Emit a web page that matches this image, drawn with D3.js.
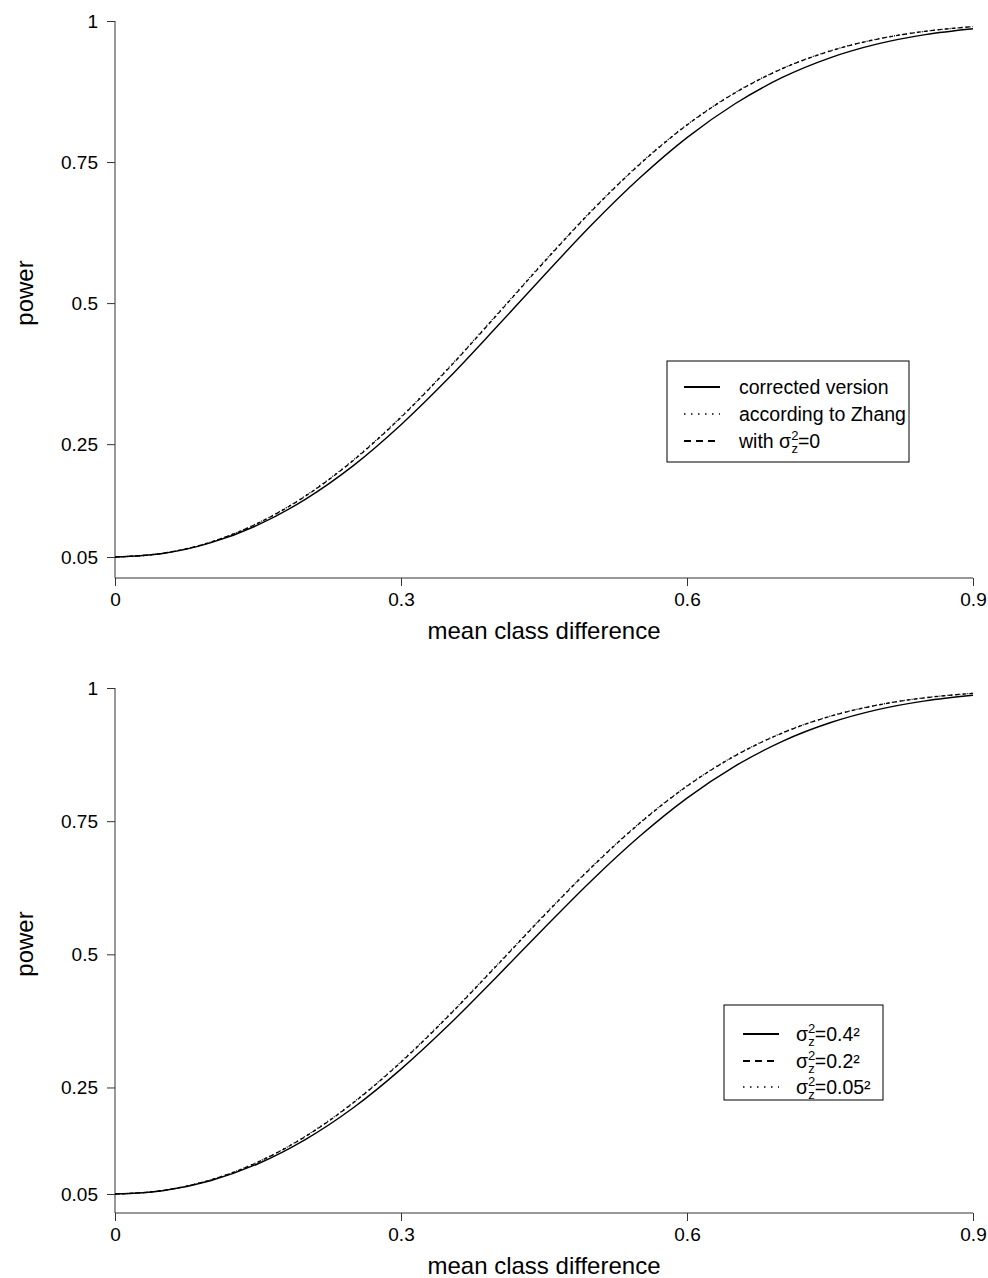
<!DOCTYPE html>
<html>
<head>
<meta charset="utf-8">
<script src="https://cdn.jsdelivr.net/npm/d3@7"></script>
<style>
html,body{margin:0;padding:0;background:#fff;}
svg text{font-family:"Liberation Sans",Arial,sans-serif;fill:#000;}
</style>
</head>
<body>
<svg id="chart" width="988" height="1278"></svg>
<script>
// ---- data ----
const meanDiff = [0,0.05,0.1,0.15,0.2,0.25,0.3,0.35,0.4,0.45,0.5,0.55,0.6,0.65,0.7,0.75,0.8,0.85,0.9];
const xTicks = [0,0.3,0.6,0.9];
const xTickLabels = ["0","0.3","0.6","0.9"];
const yTicks = [0.05,0.25,0.5,0.75,1];
const yTickLabels = ["0.05","0.25","0.5","0.75","1"];

// top panel
const corrected   = [0.05,0.0561,0.0749,0.1068,0.1526,0.2119,0.2844,0.3671,0.4571,0.5490,0.6387,0.7211,0.7933,0.8529,0.8999,0.9347,0.9594,0.9759,0.9863];
const zhang       = [0.05,0.0566,0.0764,0.1103,0.1589,0.2221,0.2986,0.3856,0.4791,0.5737,0.6644,0.7463,0.8163,0.8728,0.9159,0.9470,0.9682,0.9818,0.9901];
const sigmaZero   = [0.05,0.0566,0.0762,0.1099,0.1582,0.2212,0.2975,0.3844,0.4778,0.5725,0.6633,0.7454,0.8156,0.8722,0.9155,0.9467,0.9680,0.9817,0.9900];
const topLegend = ["corrected version","according to Zhang","with σ|2|z|=0"];

// bottom panel
const s04  = [0.05,0.0561,0.0749,0.1068,0.1526,0.2119,0.2844,0.3671,0.4571,0.5490,0.6387,0.7211,0.7933,0.8529,0.8999,0.9347,0.9594,0.9759,0.9863];
const s02  = [0.05,0.0566,0.0762,0.1099,0.1582,0.2212,0.2975,0.3844,0.4778,0.5725,0.6633,0.7454,0.8156,0.8722,0.9155,0.9467,0.9680,0.9817,0.9900];
const s005 = [0.05,0.0566,0.0764,0.1103,0.1589,0.2221,0.2986,0.3856,0.4791,0.5737,0.6644,0.7463,0.8163,0.8728,0.9159,0.9470,0.9682,0.9818,0.9901];
const bottomLegend = ["σ|2|z|=0.4²","σ|2|z|=0.2²","σ|2|z|=0.05²"];

const svg = d3.select("#chart");
const axisColor = "#333";

function panel(cfg){
  const g = svg.append("g");
  const x = d3.scaleLinear().domain([0,0.9]).range([115,973]);
  const y = d3.scaleLinear().domain([0.05,1]).range([cfg.y005, cfg.y1]);

  // axes
  const xa = g.append("g").attr("transform",`translate(0,${cfg.axisY})`)
    .call(d3.axisBottom(x).tickValues(xTicks).tickFormat((d,i)=>xTickLabels[i]).tickSize(8).tickSizeOuter(0));
  const ya = g.append("g").attr("transform","translate(115,0)")
    .call(d3.axisLeft(y).tickValues(yTicks).tickFormat((d,i)=>yTickLabels[i]).tickSize(8).tickSizeOuter(0));
  [xa,ya].forEach(a=>{
    a.select(".domain").remove();
    a.selectAll("line").attr("stroke",axisColor);
    a.selectAll("text").style("font-size","19px").attr("fill","#000");
  });
  ya.selectAll("text").attr("x",-17);
  xa.selectAll("text").attr("y",15);
  g.append("line").attr("x1",115).attr("x2",115).attr("y1",y(1)).attr("y2",cfg.axisY).attr("stroke",axisColor);
  g.append("line").attr("x1",115).attr("x2",973).attr("y1",cfg.axisY).attr("y2",cfg.axisY).attr("stroke",axisColor);

  // titles
  g.append("text").attr("x",544).attr("y",cfg.axisY+52).attr("text-anchor","middle")
    .attr("dominant-baseline","central").style("font-size","24px").text("mean class difference");
  g.append("text").attr("transform",`translate(24,${cfg.ylabY}) rotate(-90)`)
    .attr("text-anchor","middle").attr("dominant-baseline","central").style("font-size","24px").text("power");

  // curves
  const line = d3.line().x((d,i)=>x(meanDiff[i])).y(d=>y(d)).curve(d3.curveMonotoneX);
  cfg.series.forEach(s=>{
    g.append("path").datum(s.values).attr("d",line).attr("fill","none")
      .attr("stroke","#000").attr("stroke-width",s.w)
      .attr("stroke-dasharray",s.dash||null);
  });

  // legend
  const L = cfg.legend;
  g.append("rect").attr("x",L.x).attr("y",L.y).attr("width",L.w).attr("height",L.h)
    .attr("fill","#fff").attr("stroke","#000").attr("stroke-width",1);
  cfg.series.forEach((s,i)=>{
    const ry = L.rowY[i];
    g.append("line").attr("x1",L.lx1).attr("x2",L.lx2).attr("y1",ry).attr("y2",ry)
      .attr("stroke","#000").attr("stroke-width",s.lw).attr("stroke-dasharray",s.ldash||null);
    const label = L.labels[i];
    const t = g.append("text").attr("x",L.tx).attr("y",ry+7).style("font-size","19.5px");
    const parts = label.split("|");
    if(parts.length===1){ t.text(label); }
    else {
      t.append("tspan").text(parts[0]);
      t.append("tspan").attr("dy",-8).style("font-size","13px").text(parts[1]);
      t.append("tspan").attr("dx",-7).attr("dy",13).style("font-size","13px").text(parts[2]);
      t.append("tspan").attr("dy",-5).text(parts[3]);
    }
  });
}

panel({
  y1:21, y005:557, axisY:578, ylabY:293,
  series:[
    {values:corrected, w:1.4, lw:2},
    {values:zhang, w:1.3, dash:"1,3", lw:1.3, ldash:"1.5,5.5"},
    {values:sigmaZero, w:1.3, dash:"4,3", lw:2, ldash:"7,5"}
  ],
  legend:{x:667,y:361,w:242,h:101,lx1:684,lx2:720,tx:739,rowY:[387,414,441],labels:topLegend}
});

panel({
  y1:688, y005:1194, axisY:1213, ylabY:944,
  series:[
    {values:s04, w:1.4, lw:2},
    {values:s02, w:1.3, dash:"4,3", lw:2, ldash:"7,5"},
    {values:s005, w:1.3, dash:"1,3", lw:1.3, ldash:"1.5,5.5"}
  ],
  legend:{x:724,y:1005,w:159,h:95,lx1:743,lx2:779,tx:796,rowY:[1034,1061,1087],labels:bottomLegend}
});
</script>
</body>
</html>
